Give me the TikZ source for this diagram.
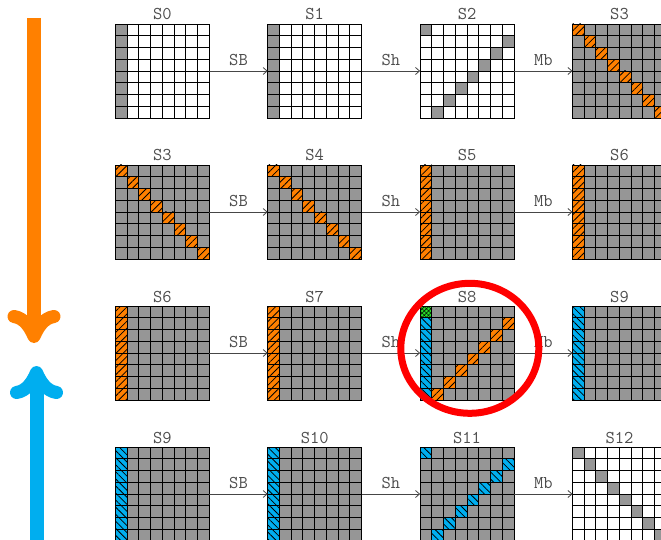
\documentclass[tikz,border=0pt]{standalone}
\usepackage{fontspec}
\usetikzlibrary{arrows.meta,positioning,calc,patterns.meta}
\definecolor{CellGray}{RGB}{150,150,150}
\definecolor{Orange}{RGB}{255,128,0}
\definecolor{Sky}{RGB}{0,174,239}
\definecolor{Lime}{RGB}{40,220,40}
\definecolor{Wire}{RGB}{70,70,70}
\definecolor{Ring}{RGB}{255,0,0}
\newcommand{\cs}{11.75}
\newcommand{\paintcell}[4]{\path[#4] ($(#1.north west)+({(#2)*\cs},{(#3)*\cs})$) rectangle +(\cs,\cs);}
% grid lines of the state in row #1, column #2 (snapped to pixel centres)
\newcommand{\cellgrid}[2]{%
  \pgfmathsetmacro{\gridL}{floor(115.3+152.4*#2)+.5}
  \pgfmathsetmacro{\gridT}{floor(24+141*#1)+.5}
  \pgfmathsetmacro{\gridR}{floor(115.3+152.4*#2+94)+.5}
  \pgfmathsetmacro{\gridB}{floor(24+141*#1+94)+.5}
  \foreach \k in {0,...,8}{%
    \pgfmathsetmacro{\gridX}{floor(115.3+152.4*#2+\k*\cs)+.5}
    \pgfmathsetmacro{\gridY}{floor(24+141*#1+\k*\cs)+.5}
    \draw[cellline] (\gridX,\gridT) -- (\gridX,\gridB);
    \draw[cellline] (\gridL,\gridY) -- (\gridR,\gridY);}}
\tikzset{
  >=Latex,
  state/.style={minimum size=94pt,inner sep=0pt,outer sep=0pt},
  blank/.style={fill=white},
  dark/.style={fill=CellGray},
  hotA/.style={fill=Orange,postaction={pattern={Lines[angle=45,distance=5pt,line width=.8pt]},pattern color=black}},
  hotB/.style={fill=Sky,postaction={pattern={Lines[angle=-45,distance=5pt,line width=.8pt]},pattern color=black}},
  hotC/.style={fill=Lime,postaction={pattern={Hatch[angle=45,distance=3pt,line width=.5pt]},pattern color=black}},
  cellline/.style={draw=black,line width=1.6pt,line cap=rect},
  stepline/.style={-{Straight Barb[length=4pt,width=7pt]},draw=Wire,line width=.8pt},
  oplabel/.style={font=\ttfamily\fontsize{18}{18}\selectfont,text=black!70,inner sep=0pt,above=5pt},
  statename/.style={font=\ttfamily\fontsize{18}{18}\selectfont,text=black!70,inner sep=0pt,anchor=base},
  shaft/.style={line width=14pt},
  barb/.style={line width=13pt,line cap=round,line join=round},
  ring/.style={draw=Ring,line width=7pt}
}
\begin{document}
\begin{tikzpicture}[x=1pt,y=-1pt]
  \useasboundingbox (0,0) rectangle (661,540);
  \foreach \r in {0,...,3}
    \foreach \c in {0,...,3}
      \node[state] (g\r\c) at ({162.3+152.4*\c},{71+141*\r}) {};
  % base colour of each state
  \foreach \g in {g00,g01,g02,g33}
    \path[blank] (\g.north west) rectangle (\g.south east);
  \foreach \g in {g03,g10,g11,g12,g13,g20,g21,g22,g23,g30,g31,g32}
    \path[dark] (\g.north west) rectangle (\g.south east);
  % marked cells
  \foreach \k in {0,...,7}{
    \paintcell{g00}{0}{\k}{dark}
    \paintcell{g01}{0}{\k}{dark}
    \paintcell{g02}{mod(8-\k,8)}{\k}{dark}
    \paintcell{g33}{\k}{\k}{dark}
    \paintcell{g03}{\k}{\k}{hotA}
    \paintcell{g10}{\k}{\k}{hotA}
    \paintcell{g11}{\k}{\k}{hotA}
    \paintcell{g12}{0}{\k}{hotA}
    \paintcell{g13}{0}{\k}{hotA}
    \paintcell{g20}{0}{\k}{hotA}
    \paintcell{g21}{0}{\k}{hotA}
    \paintcell{g23}{0}{\k}{hotB}
    \paintcell{g30}{0}{\k}{hotB}
    \paintcell{g31}{0}{\k}{hotB}
    \paintcell{g32}{mod(8-\k,8)}{\k}{hotB}
  }
  \paintcell{g22}{0}{0}{hotC}
  \foreach \k in {1,...,7}{
    \paintcell{g22}{0}{\k}{hotB}
    \paintcell{g22}{8-\k}{\k}{hotA}
  }
  \foreach \r in {0,...,3}{
    \foreach \c in {0,...,3}{\cellgrid{\r}{\c}}
  }
  % titles
  \foreach \g/\name in {g00/S0,g01/S1,g02/S2,g03/S3,g10/S3,g11/S4,g12/S5,g13/S6,
                        g20/S6,g21/S7,g22/S8,g23/S9,g30/S9,g31/S10,g32/S11,g33/S12}
    \node[statename] (t\g) at ($(\g.north)+(0,-4)$) {\name};
  % round steps
  \foreach \r in {0,...,3}{
    \draw[stepline] (g\r0.east) -- node[oplabel]{SB} (g\r1.west);
    \draw[stepline] (g\r1.east) -- node[oplabel]{Sh} (g\r2.west);
    \draw[stepline] (g\r2.east) -- node[oplabel]{Mb} (g\r3.west);
  }
  % direction arrows
  \coordinate (downtop) at (34,18);
  \coordinate (downtip) at (34,336.5);
  \coordinate (downL) at (14,316.5);
  \coordinate (downR) at (54,316.5);
  \coordinate (uptip) at (36.5,372.5);
  \coordinate (upL) at (16.5,392.5);
  \coordinate (upR) at (56.5,392.5);
  \coordinate (upbot) at (36.5,560);
  \draw[shaft,Orange] (downtop) -- (downtip);
  \draw[barb,Orange] (downL) .. controls (24,318) and (30,327) .. (downtip)
                             .. controls (38,327) and (44,318) .. (downR);
  \draw[shaft,Sky] (upbot) -- (uptip);
  \draw[barb,Sky] (upL) .. controls (26.5,391) and (32.5,382) .. (uptip)
                        .. controls (40.5,382) and (46.5,391) .. (upR);
  % highlighted state
  \coordinate (focus) at (469.8,348.3);
  \draw[ring] (focus) ellipse [x radius=69,y radius=65];
\end{tikzpicture}
\end{document}
